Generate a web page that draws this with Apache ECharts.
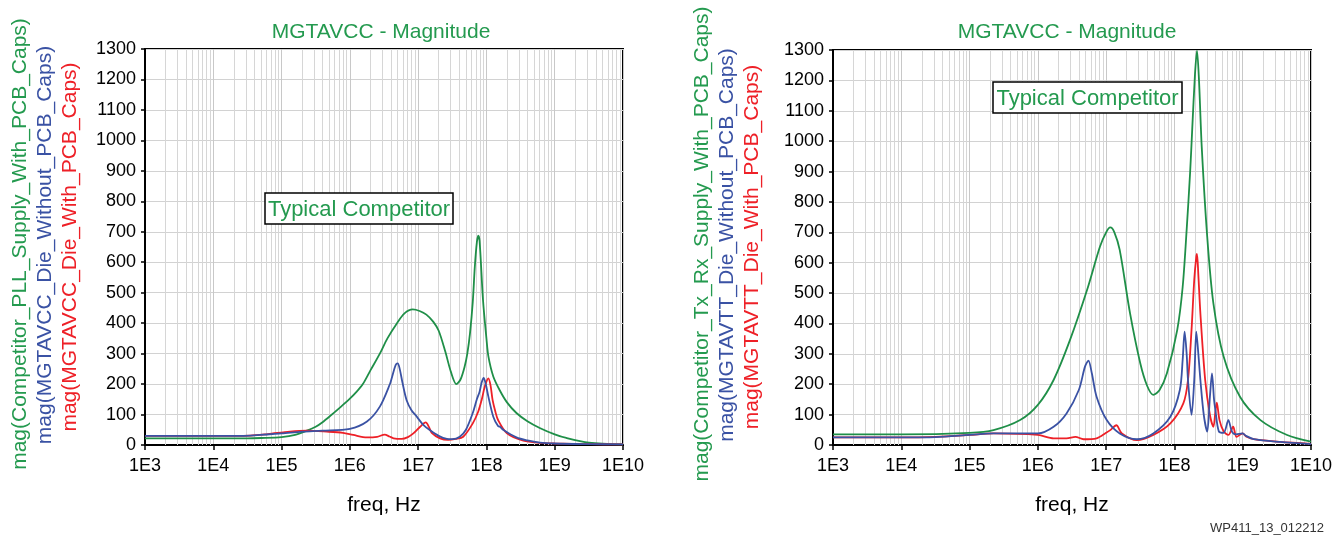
<!DOCTYPE html>
<html>
<head>
<meta charset="utf-8">
<script src="https://cdn.jsdelivr.net/npm/echarts@6/dist/echarts.min.js"></script>
<style>
html,body{margin:0;padding:0;background:#fff;}
#c{width:1341px;height:539px;}
</style>
</head>
<body>
<div id="c"></div>
<script>
// ---------- DATA ----------
const chartTitles = ['MGTAVCC - Magnitude', 'MGTAVCC - Magnitude'];
const annotation = 'Typical Competitor';
const xAxisName = 'freq, Hz';
const footnote = 'WP411_13_012212';
const xTickLabels = ['1E3','1E4','1E5','1E6','1E7','1E8','1E9','1E10'];
const yMin = 0, yMax = 1300, yStep = 100;

const leftNames = [
  'mag(Competitor_PLL_Supply_With_PCB_Caps)',
  'mag(MGTAVCC_Die_Without_PCB_Caps)',
  'mag(MGTAVCC_Die_With_PCB_Caps)'
];
const rightNames = [
  'mag(Competitor_Tx_Rx_Supply_With_PCB_Caps)',
  'mag(MGTAVTT_Die_Without_PCB_Caps)',
  'mag(MGTAVTT_Die_With_PCB_Caps)'
];

// Left chart: [frequency Hz, magnitude]
const leftGreen = [
  [1e3,22],[1e4,22],[3.16e4,22],[5e4,23],[1e5,26],[1.58e5,33],[2.34e5,47],[3.16e5,60],
  [3.98e5,75],[5.13e5,95],[7.08e5,122],[1e6,152],[1.26e6,175],[1.55e6,200],[2e6,245],
  [2.75e6,300],[3.55e6,350],[4.9e6,400],[6.31e6,432],[8.32e6,445],[1.05e7,440],[1.32e7,428],
  [1.66e7,405],[2e7,375],[2.51e7,305],[3.02e7,240],[3.63e7,200],[4.17e7,215],[4.79e7,257],
  [5.25e7,300],[5.75e7,367],[6.31e7,470],[6.76e7,585],[7.24e7,665],[7.59e7,687],[7.94e7,670],
  [8.91e7,476],[1e8,350],[1.07e8,290],[1.26e8,225],[1.58e8,178],[2e8,140],[2.75e8,105],
  [3.98e8,78],[6.03e8,56],[1e9,35],[1.48e9,23],[3.16e9,8],[1e10,2]
];
const leftBlue = [
  [1e3,30],[1e4,30],[3.47e4,31],[1e5,38],[2e5,44],[3.98e5,47],[1e6,53],[1.78e6,77],
  [2.75e6,126],[3.89e6,202],[4.17e6,225],[4.68e6,262],[5.01e6,268],[5.37e6,250],[5.89e6,205],
  [6.76e6,148],[7.94e6,115],[9.55e6,93],[1.2e7,65],[1.48e7,49],[2e7,30],[2.63e7,20],
  [3.16e7,19],[4.07e7,27],[5.01e7,50],[6.31e7,105],[7.24e7,150],[7.94e7,175],[8.51e7,205],
  [9.12e7,220],[9.77e7,200],[1.07e8,158],[1.26e8,93],[1.48e8,62],[1.58e8,60],[1.78e8,49],
  [2.75e8,25],[3.98e8,15],[6.03e8,8],[1e9,5],[3.16e9,3],[1e10,2]
];
const leftRed = [
  [1e3,30],[1e4,30],[3.47e4,31],[6.31e4,36],[1.32e5,44],[2.34e5,47],[4.57e5,44],[7.94e5,40],
  [1.12e6,33],[1.78e6,25],[2.51e6,27],[3.24e6,34],[3.8e6,28],[4.37e6,22],[5.75e6,20],
  [7.08e6,26],[8.51e6,38],[1.07e7,60],[1.29e7,74],[1.45e7,58],[1.58e7,40],[2.09e7,22],
  [2.75e7,17],[3.55e7,20],[4.57e7,27],[6.31e7,71],[7.59e7,110],[8.51e7,148],[9.55e7,195],
  [1.07e8,219],[1.15e8,195],[1.23e8,148],[1.35e8,110],[1.48e8,82],[2e8,38],[3.47e8,14],
  [6.03e8,7],[1e9,5],[3.16e9,3],[1e10,2]
];

// Right chart: [frequency Hz, magnitude]
const rightGreen = [
  [1e3,35],[1e4,35],[1e5,40],[2.24e5,49],[5.5e5,82],[1e6,132],[1.7e6,214],[2.95e6,345],
  [5.25e6,510],[8.13e6,653],[1e7,700],[1.15e7,716],[1.32e7,700],[1.58e7,642],[2.24e7,433],
  [3.16e7,269],[3.98e7,195],[4.9e7,165],[6.03e7,180],[7.76e7,236],[1.1e8,379],[1.32e8,520],
  [1.51e8,708],[1.7e8,900],[1.82e8,1037],[2e8,1220],[2.14e8,1298],[2.29e8,1200],[2.51e8,982],
  [3.02e8,686],[3.72e8,466],[5.25e8,291],[9.12e8,159],[1.82e9,82],[4.47e9,33],[1e10,11]
];
const rightBlue = [
  [1e3,25],[1e4,25],[3.16e4,26],[1e5,33],[2.24e5,38],[1e6,38],[1.7e6,60],[2.63e6,104],
  [3.98e6,181],[4.9e6,258],[5.5e6,278],[6.17e6,236],[7.24e6,159],[1.02e7,82],[1.58e7,38],
  [2.82e7,19],[4.9e7,38],[8.71e7,93],[1.2e8,181],[1.32e8,280],[1.41e8,373],[1.51e8,300],
  [1.58e8,214],[1.78e8,99],[1.95e8,214],[2.09e8,373],[2.24e8,300],[2.4e8,214],[2.69e8,99],
  [3.02e8,44],[3.31e8,159],[3.55e8,236],[3.8e8,150],[3.98e8,115],[4.47e8,45],[5.25e8,40],
  [6.17e8,82],[6.92e8,45],[7.94e8,35],[1e9,38],[1.12e9,30],[1.45e9,19],[3.55e9,10],[1e10,3]
];
const rightRed = [
  [1e3,25],[1e4,25],[3.16e4,27],[1e5,33],[2.24e5,38],[1e6,33],[1.7e6,22],[2.63e6,22],
  [3.55e6,27],[4.68e6,19],[7.24e6,22],[1e7,40],[1.15e7,49],[1.41e7,65],[1.7e7,38],
  [2.82e7,16],[4.9e7,33],[8.71e7,71],[1.35e8,137],[1.58e8,214],[1.78e8,379],[1.95e8,543],
  [2.09e8,620],[2.14e8,629],[2.24e8,560],[2.4e8,433],[2.82e8,214],[3.31e8,99],[3.72e8,60],
  [3.98e8,110],[4.17e8,139],[4.57e8,82],[5.25e8,45],[6.17e8,33],[7.24e8,60],[8.13e8,27],
  [1e9,38],[1.12e9,28],[1.45e9,19],[3.55e9,10],[1e10,4]
];

// ---------- STYLE ----------
const GREEN = '#1f8f48', BLUE = '#3a52a4', RED = '#ee2027';
const TXT_GREEN = '#249a4f';
const FONT = '"Liberation Sans", Arial, Helvetica, sans-serif';

const minorFreqs = [];
for (let e = 3; e < 10; e++) for (let m = 2; m <= 9; m++) minorFreqs.push(m * Math.pow(10, e));

function xLabel(v){
  const i = Math.round(Math.log10(v)) - 3;
  return xTickLabels[i] !== undefined ? xTickLabels[i] : '';
}

function xAxisDef(gi){
  return {
    type:'log', logBase:10, gridIndex:gi, min:1e3, max:1e10, interval:1, splitNumber:7,
    name:xAxisName, nameLocation:'middle', nameGap:50,
    nameTextStyle:{color:'#000', fontSize:21, fontFamily:FONT},
    axisLine:{show:true, onZero:false, lineStyle:{color:'#000', width:2}},
    axisTick:{show:true, inside:false, length:5, lineStyle:{color:'#000', width:1.5}},
    axisLabel:{color:'#000', fontSize:18, fontFamily:FONT, margin:12, formatter:xLabel},
    splitLine:{show:true, lineStyle:{color:'#c8c8c8', width:1}},
    minorTick:{show:false}, minorSplitLine:{show:false}
  };
}
function yAxisDef(gi){
  return {
    type:'value', gridIndex:gi, min:yMin, max:yMax, interval:yStep,
    axisLine:{show:true, lineStyle:{color:'#000', width:2}},
    axisTick:{show:true, inside:false, length:4, lineStyle:{color:'#000', width:1.5}},
    axisLabel:{color:'#000', fontSize:18, fontFamily:FONT, margin:9, formatter:v => String(v)},
    splitLine:{show:true, lineStyle:{color:'#d2d2d2', width:1.2}}
  };
}
function lineSeries(gi, data, color, z){
  return {
    type:'line', xAxisIndex:gi, yAxisIndex:gi, data:data, showSymbol:false, symbol:'none',
    smooth:0.3, z:z, silent:true, animation:false,
    lineStyle:{color:color, width:1.8}
  };
}
function gridSeries(gi){
  return {
    type:'line', xAxisIndex:gi, yAxisIndex:gi, data:[], z:1, silent:true, animation:false,
    markLine:{silent:true, z:1, symbol:'none', animation:false, label:{show:false},
      lineStyle:{color:'#d6d6d6', width:1, type:'solid'},
      data:minorFreqs.map(f => ({xAxis:f}))}
  };
}

function rotText(x, y, txt, color){
  return {type:'text', x:x, y:y, rotation:Math.PI/2, silent:true,
    style:{text:txt, fill:color, font:'21px ' + FONT, textAlign:'center', textVerticalAlign:'middle'}};
}
function plainText(x, y, txt, color, size, align){
  return {type:'text', x:x, y:y, silent:true,
    style:{text:txt, fill:color, font:size + 'px ' + FONT, textAlign:align || 'center', textVerticalAlign:'middle'}};
}
function boxLabel(x, y, w, h){
  return [
    {type:'rect', x:x, y:y, z:100, zlevel:1, silent:true, shape:{x:0, y:0, width:w, height:h},
      style:{fill:'#fff', stroke:'#000', lineWidth:1.5}},
    {type:'text', x:x + w/2, y:y + h/2 + 1, z:101, zlevel:1, silent:true,
      style:{text:annotation, fill:TXT_GREEN, font:'22px ' + FONT, textAlign:'center', textVerticalAlign:'middle'}}
  ];
}

const chart = echarts.init(document.getElementById('c'), null, {renderer:'canvas'});
chart.setOption({
  animation:false,
  backgroundColor:'#fff',
  grid:[
    {left:145, top:49, width:478, height:396, show:true, borderColor:'#000', borderWidth:2, containLabel:false},
    {left:833, top:50, width:478, height:395, show:true, borderColor:'#000', borderWidth:2, containLabel:false}
  ],
  xAxis:[xAxisDef(0), xAxisDef(1)],
  yAxis:[yAxisDef(0), yAxisDef(1)],
  series:[
    gridSeries(0), gridSeries(1),
    lineSeries(0, leftGreen, GREEN, 3),
    lineSeries(0, leftRed, RED, 4),
    lineSeries(0, leftBlue, BLUE, 5),
    lineSeries(1, rightGreen, GREEN, 3),
    lineSeries(1, rightRed, RED, 4),
    lineSeries(1, rightBlue, BLUE, 5)
  ],
  graphic:[
    plainText(381, 32, chartTitles[0], TXT_GREEN, 21),
    plainText(1067, 32, chartTitles[1], TXT_GREEN, 21),
    rotText(20, 244, leftNames[0], TXT_GREEN),
    rotText(45, 245, leftNames[1], BLUE),
    rotText(70, 247, leftNames[2], RED),
    rotText(702, 244, rightNames[0], TXT_GREEN),
    rotText(727, 245, rightNames[1], BLUE),
    rotText(752, 247, rightNames[2], RED),
    ...boxLabel(265, 193, 188, 31),
    ...boxLabel(993, 82, 189, 31),
    plainText(1324, 528, footnote, '#333', 13, 'right')
  ]
});
</script>
</body>
</html>
